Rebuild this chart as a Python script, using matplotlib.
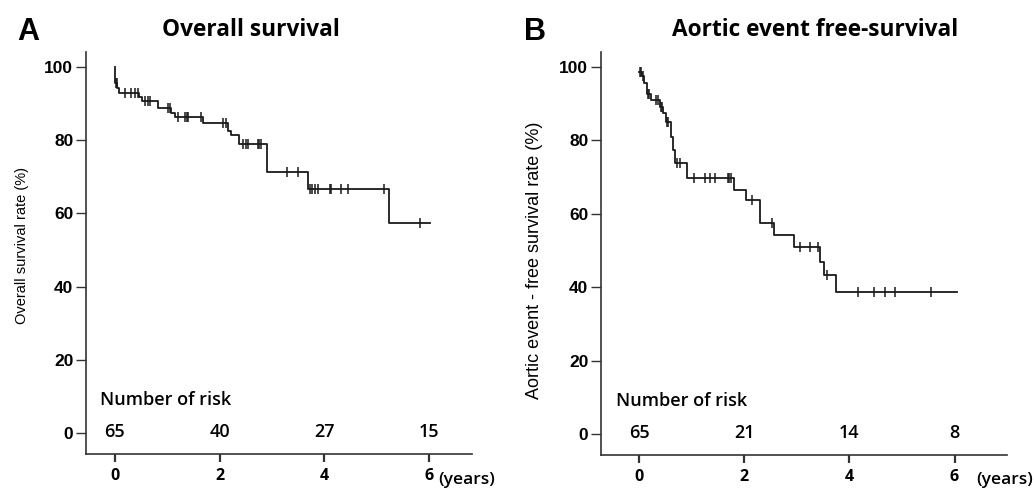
import matplotlib
matplotlib.use('Agg')
import matplotlib.pyplot as plt
import numpy as np

# Panel A: overall survival (years, %)
os_times = [0, 0.01, 0.05, 0.09, 0.47, 0.52, 0.83, 1.08, 1.15, 1.69, 2.16, 2.22, 2.38, 2.91, 3.68, 5.23]
os_surv = [100, 95.5, 94.2, 92.8, 91.7, 90.8, 88.7, 87.3, 86.3, 84.6, 82.5, 81.4, 78.9, 71.2, 66.7, 57.3]
os_end = 6.01
os_censor = [0.02, 0.035, 0.19, 0.32, 0.38, 0.44, 0.57, 0.63, 0.67, 1.02, 1.05, 1.21, 1.34, 1.37,
             1.40, 1.65, 2.07, 2.12, 2.45, 2.50, 2.54, 2.73, 2.76, 2.79, 3.28, 3.50, 3.72, 3.76,
             3.82, 3.88, 4.10, 4.13, 4.32, 4.45, 5.14, 5.82]

# Panel B: aortic event free-survival (years, %)
ae_times = [0, 0.05, 0.09, 0.15, 0.23, 0.39, 0.46, 0.50, 0.61, 0.65, 0.68, 0.90, 1.80, 2.03,
            2.30, 2.57, 2.94, 3.44, 3.51, 3.75]
ae_surv = [98.6, 97.4, 95.5, 92.5, 91.0, 89.2, 87.3, 85.1, 81.0, 77.3, 73.7, 69.8, 66.4, 63.7,
           57.5, 54.1, 50.9, 46.8, 43.2, 38.7]
ae_end = 6.05
ae_censor = [0.01, 0.03, 0.07, 0.16, 0.19, 0.31, 0.35, 0.42, 0.44, 0.52, 0.55, 0.72, 0.78, 1.05,
             1.25, 1.34, 1.44, 1.68, 1.71, 1.75, 2.14, 2.53, 3.05, 3.24, 3.41, 3.57, 4.16, 4.46,
             4.68, 4.87, 5.56]

# number at risk
risk_times = [0, 2, 4, 6]
os_risk = [65, 40, 27, 15]
ae_risk = [65, 21, 14, 8]

KR = ['Open Sans', 'DejaVu Sans']
AR = ['Liberation Sans', 'DejaVu Sans']
INK = '#1a1a1a'


def km_panel(ax, times, surv, end, censor, risk, ylabel, ylab_size, ylab_pos, xlim):
    t = np.append(times, end)
    s = np.append(surv, surv[-1])
    ax.step(t, s, where='post', color=INK, lw=1.3)
    # censor marks sit on the curve
    idx = np.searchsorted(times, censor, side='right') - 1
    ax.plot(censor, np.array(surv)[idx], ls='none', marker='|', ms=6.5, mew=1.1, color=INK)

    ax.set_xlim(*xlim)
    ax.set_ylim(-5.7, 104)
    ax.set_yticks([0, 20, 40, 60, 80, 100])
    ax.set_xticks([0, 2, 4, 6])
    for sp in ['top', 'right']:
        ax.spines[sp].set_visible(False)
    for sp in ['left', 'bottom']:
        ax.spines[sp].set_color('#333333')
        ax.spines[sp].set_linewidth(1.2)
    ax.tick_params(axis='y', length=7, width=1.0, pad=2, colors='#333333')
    ax.tick_params(axis='x', length=6, width=1.6, pad=4, colors='#333333')
    for lb in ax.get_yticklabels():
        lb.set_fontfamily(AR)
        lb.set_fontweight('bold')
        lb.set_fontsize(12.5)
        lb.set_color('black')
    for lb in ax.get_xticklabels():
        lb.set_fontfamily(KR)
        lb.set_fontweight('bold')
        lb.set_fontsize(11.5)
        lb.set_color('black')
    ax.set_ylabel(ylabel, family=AR, fontsize=ylab_size)
    ax.yaxis.set_label_coords(*ylab_pos)

    ax.text(0.038, 9.0, 'Number of risk', transform=ax.get_yaxis_transform(), family=KR,
            fontsize=13, fontweight='semibold', ha='left', va='center')
    for x, n in zip(risk_times, risk):
        ax.text(x, 0.3, str(n), family=KR, fontsize=13, fontweight='semibold',
                ha='center', va='center')
    return ax


fig = plt.figure(figsize=(10.34, 4.92), dpi=100)
axA = fig.add_axes([0.083, 0.077, 0.373, 0.817])
axB = fig.add_axes([0.581, 0.075, 0.393, 0.819])

km_panel(axA, os_times, os_surv, os_end, os_censor, os_risk,
         'Overall survival rate (%)', 10.5, (-0.147, 0.52), (-0.551, 6.808))
km_panel(axB, ae_times, ae_surv, ae_end, ae_censor, ae_risk,
         'Aortic event - free survival rate (%)', 13, (-0.142, 0.484), (-0.732, 7.0))

fig.text(0.027, 0.935, 'A', family=AR, fontsize=22, fontweight='bold', ha='center', va='center')
fig.text(0.517, 0.935, 'B', family=AR, fontsize=22, fontweight='bold', ha='center', va='center')
fig.text(0.243, 0.94, 'Overall survival', family=KR, fontsize=16.3, fontweight='bold',
         ha='center', va='center')
fig.text(0.788, 0.94, 'Aortic event free-survival', family=KR, fontsize=16.3, fontweight='bold',
         ha='center', va='center')
fig.text(0.424, 0.0244, '(years)', family=KR, fontsize=12.5, fontweight='semibold',
         ha='left', va='center')
fig.text(0.944, 0.0244, '(years)', family=KR, fontsize=12.5, fontweight='semibold',
         ha='left', va='center')

fig.savefig('out.png', dpi=100)
